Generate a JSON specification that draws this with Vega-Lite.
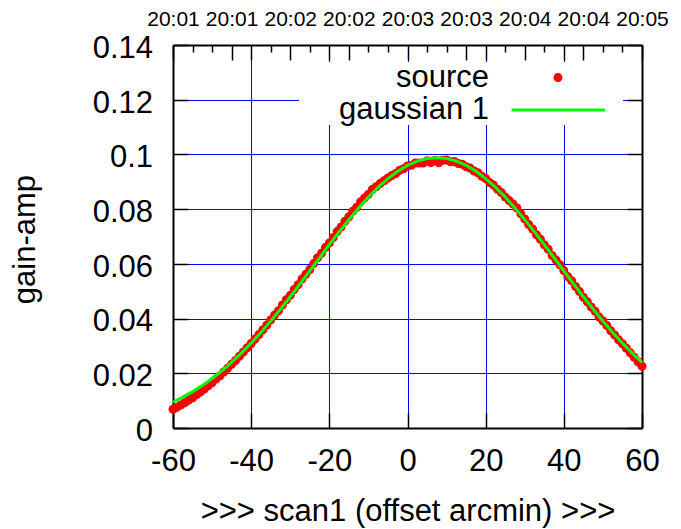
{
  "$schema": "https://vega.github.io/schema/vega-lite/v6.json",
  "autosize": {"type": "none"},
  "padding": {"left": 173, "top": 45, "right": 39, "bottom": 101},
  "width": 469,
  "height": 383,
  "config": {"view": {"stroke": null}, "font": "Liberation Sans"},
  "datasets": {
    "source": [
      {"offset": -60, "amp": 0.00681, "series": "source"},
      {"offset": -59, "amp": 0.00759, "series": "source"},
      {"offset": -58, "amp": 0.00841, "series": "source"},
      {"offset": -57, "amp": 0.00926, "series": "source"},
      {"offset": -56, "amp": 0.01015, "series": "source"},
      {"offset": -55, "amp": 0.01109, "series": "source"},
      {"offset": -54, "amp": 0.01216, "series": "source"},
      {"offset": -53, "amp": 0.01318, "series": "source"},
      {"offset": -52, "amp": 0.01423, "series": "source"},
      {"offset": -51, "amp": 0.01544, "series": "source"},
      {"offset": -50, "amp": 0.01658, "series": "source"},
      {"offset": -49, "amp": 0.01787, "series": "source"},
      {"offset": -48, "amp": 0.01911, "series": "source"},
      {"offset": -47, "amp": 0.02049, "series": "source"},
      {"offset": -46, "amp": 0.02181, "series": "source"},
      {"offset": -45, "amp": 0.02328, "series": "source"},
      {"offset": -44, "amp": 0.02470, "series": "source"},
      {"offset": -43, "amp": 0.02626, "series": "source"},
      {"offset": -42, "amp": 0.02777, "series": "source"},
      {"offset": -41, "amp": 0.02932, "series": "source"},
      {"offset": -40, "amp": 0.03091, "series": "source"},
      {"offset": -39, "amp": 0.03254, "series": "source"},
      {"offset": -38, "amp": 0.03421, "series": "source"},
      {"offset": -37, "amp": 0.03593, "series": "source"},
      {"offset": -36, "amp": 0.03768, "series": "source"},
      {"offset": -35, "amp": 0.03947, "series": "source"},
      {"offset": -34, "amp": 0.04129, "series": "source"},
      {"offset": -33, "amp": 0.04285, "series": "source"},
      {"offset": -32, "amp": 0.04493, "series": "source"},
      {"offset": -31, "amp": 0.04684, "series": "source"},
      {"offset": -30, "amp": 0.04848, "series": "source"},
      {"offset": -29, "amp": 0.05064, "series": "source"},
      {"offset": -28, "amp": 0.05232, "series": "source"},
      {"offset": -27, "amp": 0.05451, "series": "source"},
      {"offset": -26, "amp": 0.05622, "series": "source"},
      {"offset": -25, "amp": 0.05793, "series": "source"},
      {"offset": -24, "amp": 0.06015, "series": "source"},
      {"offset": -23, "amp": 0.06227, "series": "source"},
      {"offset": -22, "amp": 0.06389, "series": "source"},
      {"offset": -21, "amp": 0.06600, "series": "source"},
      {"offset": -20, "amp": 0.06760, "series": "source"},
      {"offset": -19, "amp": 0.06968, "series": "source"},
      {"offset": -18, "amp": 0.07184, "series": "source"},
      {"offset": -17, "amp": 0.07348, "series": "source"},
      {"offset": -16, "amp": 0.07559, "series": "source"},
      {"offset": -15, "amp": 0.07718, "series": "source"},
      {"offset": -14, "amp": 0.07922, "series": "source"},
      {"offset": -13, "amp": 0.08071, "series": "source"},
      {"offset": -12, "amp": 0.08267, "series": "source"},
      {"offset": -11, "amp": 0.08407, "series": "source"},
      {"offset": -10, "amp": 0.08542, "series": "source"},
      {"offset": -9, "amp": 0.08721, "series": "source"},
      {"offset": -8, "amp": 0.08823, "series": "source"},
      {"offset": -7, "amp": 0.08939, "series": "source"},
      {"offset": -6, "amp": 0.09037, "series": "source"},
      {"offset": -5, "amp": 0.09138, "series": "source"},
      {"offset": -4, "amp": 0.09231, "series": "source"},
      {"offset": -3, "amp": 0.09306, "series": "source"},
      {"offset": -2, "amp": 0.09422, "series": "source"},
      {"offset": -1, "amp": 0.09480, "series": "source"},
      {"offset": 0, "amp": 0.09579, "series": "source"},
      {"offset": 1, "amp": 0.09608, "series": "source"},
      {"offset": 2, "amp": 0.09688, "series": "source"},
      {"offset": 3, "amp": 0.09688, "series": "source"},
      {"offset": 4, "amp": 0.09688, "series": "source"},
      {"offset": 5, "amp": 0.09768, "series": "source"},
      {"offset": 6, "amp": 0.09709, "series": "source"},
      {"offset": 7, "amp": 0.09779, "series": "source"},
      {"offset": 8, "amp": 0.09699, "series": "source"},
      {"offset": 9, "amp": 0.09789, "series": "source"},
      {"offset": 10, "amp": 0.09798, "series": "source"},
      {"offset": 11, "amp": 0.09728, "series": "source"},
      {"offset": 12, "amp": 0.09738, "series": "source"},
      {"offset": 13, "amp": 0.09668, "series": "source"},
      {"offset": 14, "amp": 0.09638, "series": "source"},
      {"offset": 15, "amp": 0.09549, "series": "source"},
      {"offset": 16, "amp": 0.09500, "series": "source"},
      {"offset": 17, "amp": 0.09392, "series": "source"},
      {"offset": 18, "amp": 0.09326, "series": "source"},
      {"offset": 19, "amp": 0.09201, "series": "source"},
      {"offset": 20, "amp": 0.09118, "series": "source"},
      {"offset": 21, "amp": 0.08977, "series": "source"},
      {"offset": 22, "amp": 0.08879, "series": "source"},
      {"offset": 23, "amp": 0.08723, "series": "source"},
      {"offset": 24, "amp": 0.08611, "series": "source"},
      {"offset": 25, "amp": 0.08442, "series": "source"},
      {"offset": 26, "amp": 0.08317, "series": "source"},
      {"offset": 27, "amp": 0.08187, "series": "source"},
      {"offset": 28, "amp": 0.08041, "series": "source"},
      {"offset": 29, "amp": 0.07832, "series": "source"},
      {"offset": 30, "amp": 0.07638, "series": "source"},
      {"offset": 31, "amp": 0.07439, "series": "source"},
      {"offset": 32, "amp": 0.07278, "series": "source"},
      {"offset": 33, "amp": 0.07064, "series": "source"},
      {"offset": 34, "amp": 0.06898, "series": "source"},
      {"offset": 35, "amp": 0.06700, "series": "source"},
      {"offset": 36, "amp": 0.06530, "series": "source"},
      {"offset": 37, "amp": 0.06309, "series": "source"},
      {"offset": 38, "amp": 0.06137, "series": "source"},
      {"offset": 39, "amp": 0.05965, "series": "source"},
      {"offset": 40, "amp": 0.05753, "series": "source"},
      {"offset": 41, "amp": 0.05542, "series": "source"},
      {"offset": 42, "amp": 0.05381, "series": "source"},
      {"offset": 43, "amp": 0.05172, "series": "source"},
      {"offset": 44, "amp": 0.04994, "series": "source"},
      {"offset": 45, "amp": 0.04778, "series": "source"},
      {"offset": 46, "amp": 0.04614, "series": "source"},
      {"offset": 47, "amp": 0.04423, "series": "source"},
      {"offset": 48, "amp": 0.04265, "series": "source"},
      {"offset": 49, "amp": 0.04059, "series": "source"},
      {"offset": 50, "amp": 0.03907, "series": "source"},
      {"offset": 51, "amp": 0.03748, "series": "source"},
      {"offset": 52, "amp": 0.03553, "series": "source"},
      {"offset": 53, "amp": 0.03401, "series": "source"},
      {"offset": 54, "amp": 0.03224, "series": "source"},
      {"offset": 55, "amp": 0.03081, "series": "source"},
      {"offset": 56, "amp": 0.02912, "series": "source"},
      {"offset": 57, "amp": 0.02747, "series": "source"},
      {"offset": 58, "amp": 0.02586, "series": "source"},
      {"offset": 59, "amp": 0.02420, "series": "source"},
      {"offset": 60, "amp": 0.02258, "series": "source"}
    ],
    "fit": [
      {"offset": -60, "amp": 0.00951},
      {"offset": -57.5, "amp": 0.01128},
      {"offset": -55, "amp": 0.01329},
      {"offset": -52.5, "amp": 0.01555},
      {"offset": -50, "amp": 0.01808},
      {"offset": -47.5, "amp": 0.02090},
      {"offset": -45, "amp": 0.02398},
      {"offset": -42.5, "amp": 0.02736},
      {"offset": -40, "amp": 0.03101},
      {"offset": -37.5, "amp": 0.03492},
      {"offset": -35, "amp": 0.03907},
      {"offset": -32.5, "amp": 0.04344},
      {"offset": -30, "amp": 0.04798},
      {"offset": -27.5, "amp": 0.05266},
      {"offset": -25, "amp": 0.05743},
      {"offset": -22.5, "amp": 0.06222},
      {"offset": -20, "amp": 0.06700},
      {"offset": -17.5, "amp": 0.07167},
      {"offset": -15, "amp": 0.07618},
      {"offset": -12.5, "amp": 0.08044},
      {"offset": -10, "amp": 0.08442},
      {"offset": -7.5, "amp": 0.08801},
      {"offset": -5, "amp": 0.09118},
      {"offset": -2.5, "amp": 0.09385},
      {"offset": 0, "amp": 0.09599},
      {"offset": 2.5, "amp": 0.09754},
      {"offset": 5, "amp": 0.09848},
      {"offset": 7.5, "amp": 0.09880},
      {"offset": 10, "amp": 0.09848},
      {"offset": 12.5, "amp": 0.09754},
      {"offset": 15, "amp": 0.09599},
      {"offset": 17.5, "amp": 0.09385},
      {"offset": 20, "amp": 0.09118},
      {"offset": 22.5, "amp": 0.08801},
      {"offset": 25, "amp": 0.08442},
      {"offset": 27.5, "amp": 0.08044},
      {"offset": 30, "amp": 0.07618},
      {"offset": 32.5, "amp": 0.07167},
      {"offset": 35, "amp": 0.06700},
      {"offset": 37.5, "amp": 0.06222},
      {"offset": 40, "amp": 0.05743},
      {"offset": 42.5, "amp": 0.05266},
      {"offset": 45, "amp": 0.04798},
      {"offset": 47.5, "amp": 0.04344},
      {"offset": 50, "amp": 0.03907},
      {"offset": 52.5, "amp": 0.03492},
      {"offset": 55, "amp": 0.03101},
      {"offset": 57.5, "amp": 0.02736},
      {"offset": 60, "amp": 0.02398}
    ]
  },
  "resolve": {"axis": {"x": "independent", "y": "independent"}},
  "layer": [
    {
      "data": {"name": "source"},
      "mark": {"type": "point", "filled": true, "opacity": 1, "size": 961, "strokeWidth": 0},
      "encoding": {
        "x": {
          "field": "offset", "type": "quantitative",
          "scale": {"domain": [-60, 60], "nice": false, "zero": false},
          "axis": {
            "orient": "bottom",
            "values": [-60, -40, -20, 0, 20, 40, 60],
            "labelExpr": "'' + datum.value",
            "labelFontSize": 31, "labelColor": "black", "labelFont": "Liberation Sans",
            "labelBaseline": "alphabetic", "labelPadding": 57.5, "labelFlush": false, "labelOverlap": false,
            "tickSize": -15, "tickColor": "black", "tickWidth": 1.5,
            "domainColor": "black", "domainWidth": 2,
            "grid": true, "gridColor": "#0000ff", "gridWidth": 1,
            "gridOpacity": {"condition": {"test": "datum.value <= -60 || datum.value >= 60", "value": 0}, "value": 1},
            "title": ">>> scan1 (offset arcmin) >>>",
            "titleFontSize": 31, "titleFontWeight": "normal", "titleColor": "black", "titleFont": "Liberation Sans",
            "titleBaseline": "alphabetic", "titleX": 234.5, "titleY": 92.5, "titleAlign": "center"
          }
        },
        "y": {
          "field": "amp", "type": "quantitative",
          "scale": {"domain": [0, 0.14], "nice": false, "zero": false},
          "axis": {
            "orient": "left",
            "values": [0, 0.02, 0.04, 0.06, 0.08, 0.1, 0.12, 0.14],
            "labelExpr": "'' + datum.value",
            "labelFontSize": 31, "labelColor": "black", "labelFont": "Liberation Sans",
            "labelBaseline": "alphabetic", "labelOffset": 12.4, "labelPadding": 35.5, "labelFlush": false, "labelOverlap": false,
            "tickSize": -15, "tickColor": "black", "tickWidth": 1.5,
            "domainColor": "black", "domainWidth": 2,
            "grid": true, "gridColor": "#0000ff", "gridWidth": 1,
            "gridOpacity": {"condition": {"test": "datum.value <= 0 || datum.value >= 0.139", "value": 0}, "value": 1},
            "title": "gain-amp",
            "titleFontSize": 31, "titleFontWeight": "normal", "titleColor": "black", "titleFont": "Liberation Sans",
            "titleBaseline": "alphabetic", "titleX": -139, "titleY": 194, "titleAlign": "center", "titleAngle": 270
          }
        },
        "color": {
          "field": "series", "type": "nominal",
          "scale": {"domain": ["source", "gaussian 1"], "range": ["#ff0000", "#00ff00"]},
          "legend": {
            "orient": "none", "legendX": 126, "legendY": 17, "padding": 0,
            "fillColor": "white", "labelAlign": "right", "labelOffset": -84.5,
            "labelFontSize": 31, "labelColor": "black", "labelFont": "Liberation Sans", "labelLimit": 400,
            "symbolSize": 961, "symbolOffset": 243.5, "symbolStrokeWidth": 0, "symbolOpacity": 1,
            "rowPadding": 0.5, "title": null
          }
        },
        "shape": {
          "field": "series", "type": "nominal",
          "scale": {"domain": ["source", "gaussian 1"], "range": ["M-0.29,0A0.29,0.29,0,1,1,0.29,0A0.29,0.29,0,1,1,-0.29,0Z", "M-16.7,0M-3.0,-0.103H3.03V0.103H-3.0ZM4.19,0"]},
          "legend": {
            "orient": "none", "legendX": 126, "legendY": 17, "padding": 0,
            "fillColor": "white", "labelAlign": "right", "labelOffset": -84.5,
            "labelFontSize": 31, "labelColor": "black", "labelFont": "Liberation Sans", "labelLimit": 400,
            "symbolSize": 961, "symbolOffset": 243.5, "symbolStrokeWidth": 0, "symbolOpacity": 1,
            "rowPadding": 0.5, "title": null
          }
        }
      }
    },
    {
      "data": {"name": "fit"},
      "mark": {"type": "line", "color": "#00ff00", "strokeWidth": 3},
      "encoding": {
        "x": {
          "field": "offset", "type": "quantitative",
          "axis": {
            "orient": "top",
            "values": [-60, -55, -50, -45, -40, -35, -30, -25, -20, -15, -10, -5, 0, 5, 10, 15, 20, 25, 30, 35, 40, 45, 50, 55, 60],
            "labelExpr": "datum.value % 15 === 0 ? '20:0' + (1 + floor((datum.value + 60) / 30)) : ''",
            "labelFontSize": 21, "labelColor": "black", "labelFont": "Liberation Sans",
            "labelBaseline": "alphabetic", "labelPadding": 35, "labelFlush": false, "labelOverlap": false,
            "tickSize": {"condition": {"test": "datum.value % 15 === 0 || datum.value % 20 === 0", "value": -15}, "value": -7},
            "tickColor": "black", "tickWidth": 1.5,
            "domainColor": "black", "domainWidth": 2,
            "grid": false, "title": null
          }
        },
        "y": {
          "field": "amp", "type": "quantitative",
          "axis": {
            "orient": "right",
            "values": [0, 0.02, 0.04, 0.06, 0.08, 0.1, 0.12, 0.14],
            "labels": false,
            "tickSize": -15, "tickColor": "black", "tickWidth": 1.5,
            "domainColor": "black", "domainWidth": 2,
            "grid": false, "title": null
          }
        }
      }
    }
  ]
}
